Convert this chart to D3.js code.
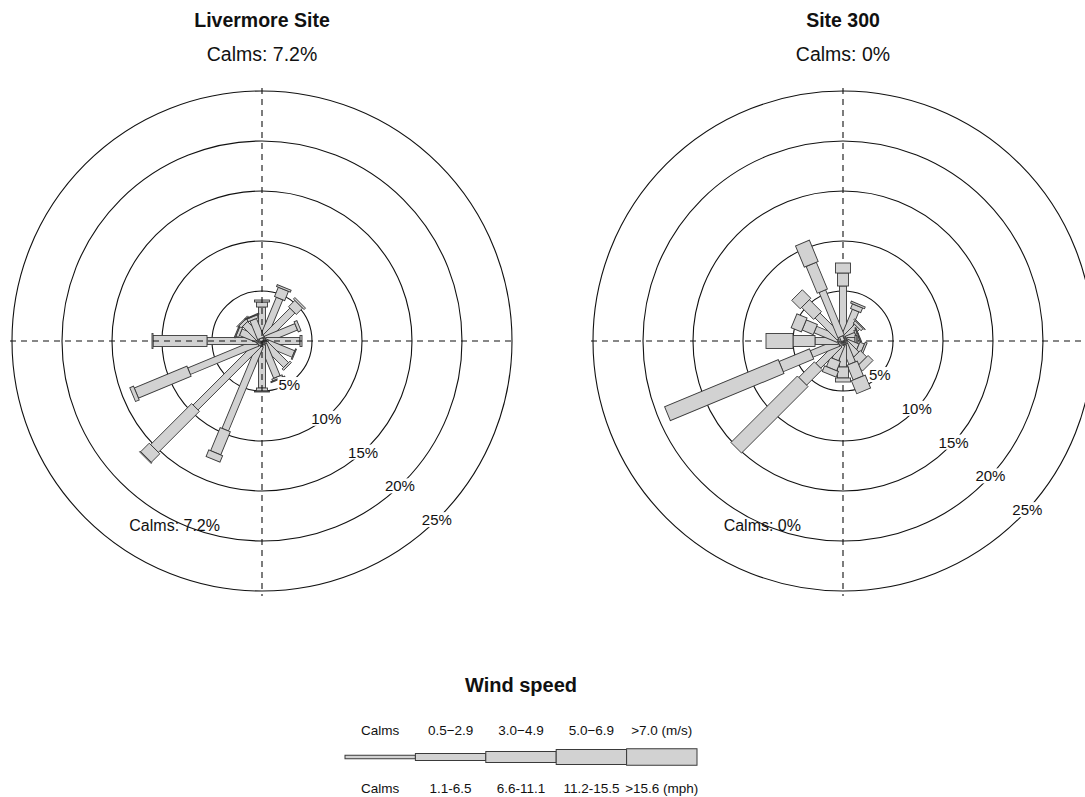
<!DOCTYPE html>
<html>
<head>
<meta charset="utf-8">
<script src="https://cdn.jsdelivr.net/npm/d3@7"></script>
<style>
  body { margin: 0; background: #fff; }
  svg { display: block; font-family: "Liberation Sans", Arial, sans-serif; }
</style>
</head>
<body>
<svg id="chart" width="1085" height="797"></svg>
<script>
// wind directions, degrees clockwise from north
const directions = [0, 22.5, 45, 67.5, 90, 112.5, 135, 157.5, 180, 202.5, 225, 247.5, 270, 292.5, 315, 337.5];
const speedBinsMs = ["Calms", "0.5\u22122.9", "3.0\u22124.9", "5.0\u22126.9", ">7.0 (m/s)"];
const speedBinsMph = ["Calms", "1.1-6.5", "6.6-11.1", "11.2-15.5", ">15.6 (mph)"];
const ringTicks = [5, 10, 15, 20, 25];

// frequency (%) per direction for each speed bin - Livermore Site
const livCalms = [0.4, 0.4, 0.4, 0.4, 0.4, 0.4, 0.4, 0.4, 0.4, 0.5, 0.5, 0.5, 0.5, 0.3, 0.3, 0.3];
const liv1 = [3.0, 4.2, 3.9, 3.3, 3.4, 3.0, 3.0, 3.5, 4.3, 9.1, 8.9, 7.4, 5.0, 2.0, 2.1, 2.0];
const liv2 = [0.5, 1.0, 0.9, 0.3, 0.2, 0.1, 0.2, 0.2, 0.3, 2.5, 5.8, 5.7, 5.4, 0.3, 0.3, 0.3];
const liv3 = [0.2, 0.2, 0.2, 0.0, 0.0, 0.0, 0.0, 0.1, 0.1, 0.7, 1.2, 0.4, 0.1, 0.1, 0.1, 0.1];
const liv4 = [0.0, 0.0, 0.0, 0.0, 0.0, 0.0, 0.0, 0.0, 0.0, 0.0, 0.1, 0.0, 0.0, 0.0, 0.0, 0.0];

// frequency (%) per direction for each speed bin - Site 300
const s300Calms = [0.5, 0.4, 0.4, 0.4, 0.4, 0.4, 0.4, 0.4, 0.4, 0.4, 0.5, 0.5, 0.5, 0.5, 0.5, 0.5];
const s3001 = [5.0, 2.9, 1.6, 1.0, 0.8, 1.2, 1.5, 2.0, 2.2, 1.6, 3.0, 2.9, 2.3, 2.5, 3.1, 4.9];
const s3002 = [1.3, 0.5, 0.3, 0.2, 0.2, 0.5, 0.9, 1.6, 1.1, 1.0, 2.2, 3.3, 2.2, 1.2, 1.7, 2.9];
const s3003 = [1.0, 0.2, 0.1, 0.1, 0.1, 0.2, 0.7, 1.4, 0.4, 0.6, 9.4, 12.3, 2.7, 1.1, 1.2, 2.3];
const s3004 = [0.0, 0.0, 0.0, 0.0, 0.0, 0.0, 0.0, 0.0, 0.0, 0.0, 0.0, 0.0, 0.0, 0.0, 0.0, 0.0];

const sites = [
  { name: "Livermore Site", calms: "7.2%", bins: [livCalms, liv1, liv2, liv3, liv4],
    cx: 262, cy: 341, gridOnTop: true, labelShift: [-9.5, 10] },
  { name: "Site 300", calms: "0%", bins: [s300Calms, s3001, s3002, s3003, s3004],
    cx: 843, cy: 341, gridOnTop: false, labelShift: [0, 0] }
];

const paddleWidth = [3.5, 7, 11, 15, 16.5];
const fill = "#d2d2d2";
const edge = "#3a3a3a";

const svg = d3.select("#chart");
const r = d3.scaleLinear().domain([0, 25]).range([0, 250]);

sites.forEach((site) => {
  const g = svg.append("g").attr("transform", `translate(${site.cx},${site.cy})`);

  // titles
  svg.append("text").attr("x", site.cx).attr("y", 27).attr("text-anchor", "middle")
    .attr("font-size", "19.5px").attr("font-weight", "bold").attr("fill", "#111").text(site.name);
  svg.append("text").attr("x", site.cx).attr("y", 61).attr("text-anchor", "middle")
    .attr("font-size", "19.5px").attr("fill", "#111").text(`Calms: ${site.calms}`);

  // rings
  g.append("g").selectAll("circle").data(ringTicks).enter().append("circle")
    .attr("r", (d) => r(d)).attr("fill", "none").attr("stroke", "#111").attr("stroke-width", 1.1);

  const drawGrid = () => {
    const ax = g.append("g").attr("stroke", "#111").attr("stroke-width", 1.1).attr("stroke-dasharray", "6,5");
    ax.append("line").attr("x1", -r(25.2)).attr("x2", r(25.3)).attr("y1", 0).attr("y2", 0);
    ax.append("line").attr("y1", -r(25.3)).attr("y2", r(25.5)).attr("x1", 0).attr("x2", 0);
  };
  if (!site.gridOnTop) drawGrid();

  // stacked paddles
  const rows = directions.map((a, i) => {
    const row = { angle: a };
    site.bins.forEach((b, k) => (row[k] = b[i]));
    return row;
  });
  const series = d3.stack().keys(d3.range(site.bins.length))(rows);

  const spokes = g.append("g").selectAll("g").data(rows).enter().append("g")
    .attr("transform", (d) => `rotate(${d.angle})`);
  spokes.each(function (d, i) {
    const sp = d3.select(this);
    series.forEach((s, k) => {
      const [v0, v1] = s[i];
      if (v1 - v0 <= 0) return;
      sp.append("rect")
        .attr("x", -paddleWidth[k] / 2).attr("width", paddleWidth[k])
        .attr("y", -r(v1)).attr("height", r(v1) - r(v0))
        .attr("fill", fill).attr("stroke", edge).attr("stroke-width", 0.9);
    });
  });

  if (site.gridOnTop) drawGrid();

  // ring labels along the lower right
  const la = (132.5 * Math.PI) / 180;
  const labels = g.append("g");
  ringTicks.forEach((t) => {
    const lx = r(t) * Math.sin(la) + site.labelShift[0];
    const ly = -r(t) * Math.cos(la) + site.labelShift[1];
    const lg = labels.append("g");
    const txt = lg.append("text").attr("x", lx).attr("y", ly).attr("dy", "0.35em")
      .attr("text-anchor", "middle").attr("font-size", "15px").attr("fill", "#111").text(`${t}%`);
    const bb = txt.node().getBBox();
    lg.insert("rect", "text").attr("x", bb.x - 1).attr("y", bb.y + 1)
      .attr("width", bb.width + 2).attr("height", bb.height - 2).attr("fill", "#fff");
  });

  // calms note, lower left
  g.append("text").attr("x", -42).attr("y", 190).attr("text-anchor", "end")
    .attr("font-size", "16px").attr("fill", "#111").text(`Calms: ${site.calms}`);
});

// legend
const legend = svg.append("g");
const lx = d3.scaleBand().domain(speedBinsMs).range([345, 697]);
const legY = 757;

legend.append("text").attr("x", 521).attr("y", 692).attr("text-anchor", "middle")
  .attr("font-size", "20px").attr("font-weight", "bold").attr("fill", "#111").text("Wind speed");

legend.selectAll(".seg").data(speedBinsMs).enter().append("rect").attr("class", "seg")
  .attr("x", (d) => lx(d)).attr("width", lx.bandwidth())
  .attr("y", (d, i) => legY - paddleWidth[i] / 2).attr("height", (d, i) => paddleWidth[i])
  .attr("fill", fill).attr("stroke", edge).attr("stroke-width", 1);

legend.selectAll(".ms").data(speedBinsMs).enter().append("text").attr("class", "ms")
  .attr("x", (d) => lx(d) + lx.bandwidth() / 2).attr("y", 735).attr("text-anchor", "middle")
  .attr("font-size", "13.5px").attr("fill", "#111").text((d) => d);

legend.selectAll(".mph").data(speedBinsMph).enter().append("text").attr("class", "mph")
  .attr("x", (d, i) => lx(speedBinsMs[i]) + lx.bandwidth() / 2).attr("y", 793).attr("text-anchor", "middle")
  .attr("font-size", "13.5px").attr("fill", "#111").text((d) => d);
</script>
</body>
</html>
